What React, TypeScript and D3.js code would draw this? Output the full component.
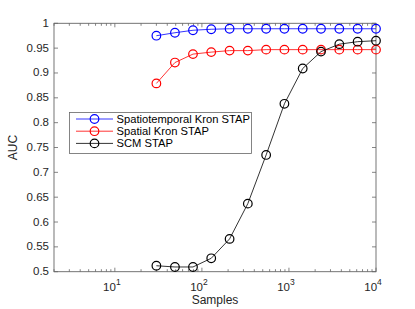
import React, { useEffect, useRef } from "react";
import * as d3 from "d3";

const samples = [30, 49, 79, 128, 208, 337, 547, 887, 1439, 2335, 3789, 6148, 10000];
const spatiotemporal = [0.975, 0.981, 0.986, 0.988, 0.989, 0.989, 0.989, 0.989, 0.989, 0.989, 0.989, 0.989, 0.989];
const spatial = [0.879, 0.921, 0.938, 0.942, 0.945, 0.945, 0.947, 0.947, 0.947, 0.947, 0.947, 0.947, 0.947];
const scm = [0.512, 0.5095, 0.5095, 0.527, 0.566, 0.637, 0.735, 0.838, 0.909, 0.943, 0.958, 0.963, 0.965];

const seriesNames = ["Spatiotemporal Kron STAP", "Spatial Kron STAP", "SCM STAP"];
const seriesColors = ["#0000ff", "#ff0000", "#000000"];
const xMajor = [10, 100, 1000, 10000];
const xExponents = ["1", "2", "3", "4"];
const yTicks = [0.5, 0.55, 0.6, 0.65, 0.7, 0.75, 0.8, 0.85, 0.9, 0.95, 1];

const App = () => {
  const svgRef = useRef<SVGSVGElement>(null);

  useEffect(() => {
    const W = 415;
    const H = 309;
    const m = { left: 54, right: 376, top: 23.3, bottom: 271.7 };
    const axisColor = "#666666";
    const textColor = "#262626";
    const font = "'Liberation Sans', Arial, Helvetica, sans-serif";

    const svg = d3.select(svgRef.current).attr("width", W).attr("height", H);
    svg.selectAll("*").remove();

    const x = d3.scaleLog().domain([2, 10000]).range([m.left, m.right]);
    const y = d3.scaleLinear().domain([0.5, 1]).range([m.bottom, m.top]);

    // minor log ticks
    const xMinor: number[] = [];
    [1, 10, 100, 1000].forEach((d) => {
      for (let k = 2; k <= 9; k++) if (d * k >= 2 && d * k < 10000) xMinor.push(d * k);
    });

    const g = svg.append("g");

    // box
    g.append("rect")
      .attr("x", m.left)
      .attr("y", m.top)
      .attr("width", m.right - m.left)
      .attr("height", m.bottom - m.top)
      .attr("fill", "white")
      .attr("stroke", axisColor)
      .attr("stroke-width", 0.9);

    // inward ticks on all four sides
    const tick = (vals: number[], len: number) => {
      vals.forEach((v) => {
        const px = x(v);
        g.append("line").attr("x1", px).attr("x2", px).attr("y1", m.bottom).attr("y2", m.bottom - len)
          .attr("stroke", axisColor).attr("stroke-width", 0.8);
        g.append("line").attr("x1", px).attr("x2", px).attr("y1", m.top).attr("y2", m.top + len)
          .attr("stroke", axisColor).attr("stroke-width", 0.8);
      });
    };
    tick(xMinor, 2.5);
    tick(xMajor, 4);

    yTicks.forEach((v) => {
      const py = y(v);
      g.append("line").attr("x1", m.left).attr("x2", m.left + 4).attr("y1", py).attr("y2", py)
        .attr("stroke", axisColor).attr("stroke-width", 0.8);
      g.append("line").attr("x1", m.right).attr("x2", m.right - 4).attr("y1", py).attr("y2", py)
        .attr("stroke", axisColor).attr("stroke-width", 0.8);
      g.append("text")
        .attr("x", m.left - 5)
        .attr("y", py + 3.5)
        .attr("text-anchor", "end")
        .attr("font-family", font)
        .attr("font-size", 11.5)
        .attr("fill", textColor)
        .text(d3.format("")(v));
    });

    // x tick labels 10^n
    xMajor.forEach((v, i) => {
      const t = g.append("text")
        .attr("x", x(v) - 3)
        .attr("y", 291)
        .attr("text-anchor", "middle")
        .attr("font-family", font)
        .attr("font-size", 11.5)
        .attr("fill", textColor);
      t.append("tspan").text("10");
      t.append("tspan").attr("dy", -6).attr("font-size", 8.5).text(xExponents[i]);
    });

    // axis labels
    g.append("text")
      .attr("x", (m.left + m.right) / 2)
      .attr("y", 304)
      .attr("text-anchor", "middle")
      .attr("font-family", font)
      .attr("font-size", 12)
      .attr("fill", textColor)
      .text("Samples");
    g.append("text")
      .attr("transform", `translate(17,${(m.top + m.bottom) / 2}) rotate(-90)`)
      .attr("text-anchor", "middle")
      .attr("font-family", font)
      .attr("font-size", 12)
      .attr("fill", textColor)
      .text("AUC");

    // series
    const allSeries = [spatiotemporal, spatial, scm];
    const line = d3.line<number>().x((_, i) => x(samples[i])).y((d) => y(d));
    allSeries.forEach((vals, s) => {
      g.append("path")
        .attr("d", line(vals))
        .attr("fill", "none")
        .attr("stroke", seriesColors[s])
        .attr("stroke-width", 0.8);
      g.selectAll(`circle.s${s}`)
        .data(vals)
        .join("circle")
        .attr("class", `s${s}`)
        .attr("cx", (_, i) => x(samples[i]))
        .attr("cy", (d) => y(d))
        .attr("r", 4.3)
        .attr("fill", "none")
        .attr("stroke", seriesColors[s])
        .attr("stroke-width", 1.2);
    });

    // legend
    const lg = g.append("g");
    lg.append("rect")
      .attr("x", 69.5)
      .attr("y", 112.5)
      .attr("width", 182)
      .attr("height", 41)
      .attr("fill", "white")
      .attr("stroke", axisColor)
      .attr("stroke-width", 0.8);
    seriesNames.forEach((name, s) => {
      const ly = 119 + s * 12.2;
      lg.append("line").attr("x1", 76).attr("x2", 113).attr("y1", ly).attr("y2", ly)
        .attr("stroke", seriesColors[s]).attr("stroke-width", 0.8);
      lg.append("circle").attr("cx", 94.5).attr("cy", ly).attr("r", 4.3)
        .attr("fill", "none").attr("stroke", seriesColors[s]).attr("stroke-width", 1.2);
      lg.append("text")
        .attr("x", 116.5)
        .attr("y", ly + 4)
        .attr("font-family", font)
        .attr("font-size", 11.2)
        .attr("fill", "#000")
        .text(name);
    });
  }, []);

  return (
    <div style={{ position: "absolute", left: 0, top: 0 }}>
      <svg ref={svgRef} style={{ display: "block" }}></svg>
    </div>
  );
};

export default App;
